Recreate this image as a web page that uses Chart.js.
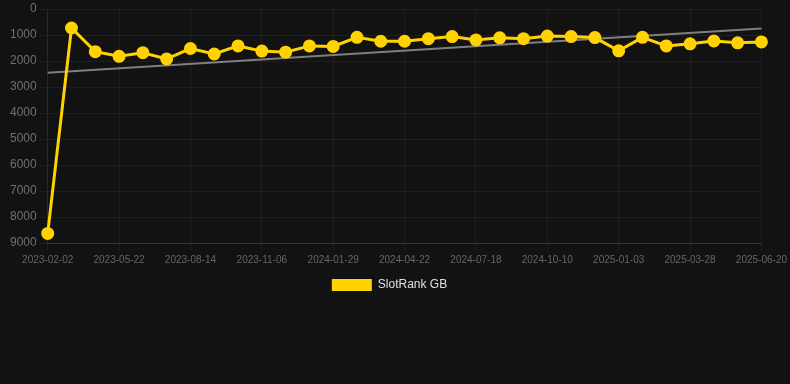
<!DOCTYPE html>
<html>
<head>
<meta charset="utf-8">
<script src="https://cdn.jsdelivr.net/npm/chart.js@4.4.1/dist/chart.umd.min.js"></script>
<style>
  html, body { margin: 0; padding: 0; background: #121212; }
  #wrap { width: 790px; height: 301px; position: relative; }
</style>
</head>
<body>
<div id="wrap"><canvas id="rank-chart"></canvas></div>
<script>
const dates = [
  "2023-02-02", "2023-03-10", "2023-04-15",
  "2023-05-22", "2023-06-19", "2023-07-17",
  "2023-08-14", "2023-09-11", "2023-10-09",
  "2023-11-06", "2023-12-04", "2024-01-01",
  "2024-01-29", "2024-02-26", "2024-03-25",
  "2024-04-22", "2024-05-21", "2024-06-19",
  "2024-07-18", "2024-08-15", "2024-09-12",
  "2024-10-10", "2024-11-07", "2024-12-05",
  "2025-01-03", "2025-01-31", "2025-02-28",
  "2025-03-28", "2025-04-25", "2025-05-23",
  "2025-06-20"
];

const rankGB = [
  8630, 730, 1640, 1820, 1680, 1920, 1520, 1730, 1420, 1620,
  1660, 1420, 1440, 1090, 1240, 1240, 1140, 1060, 1190, 1110,
  1140, 1040, 1060, 1100, 1610, 1090, 1420, 1340, 1230, 1300,
  1265
];

// trend line: only the two end values, drawn straight across
const trendStart = 2450;
const trendEnd = 750;

document.addEventListener("DOMContentLoaded", function () {
  const trendData = dates.map(() => null);
  trendData[0] = trendStart;
  trendData[dates.length - 1] = trendEnd;

  const ctx = document.getElementById("rank-chart").getContext("2d");
  const fontFamily = "Arial, 'Liberation Sans', sans-serif";

  new Chart(ctx, {
    type: "line",
    data: {
      labels: dates,
      datasets: [
        {
          label: "SlotRank GB",
          data: rankGB,
          borderColor: "#ffd200",
          backgroundColor: "#ffd200",
          borderWidth: 3,
          pointRadius: 5,
          pointHoverRadius: 6,
          tension: 0
        },
        {
          label: "trend",
          data: trendData,
          borderColor: "rgba(140,140,140,0.9)",
          borderWidth: 2,
          pointRadius: 0,
          spanGaps: true
        }
      ]
    },
    options: {
      responsive: true,
      maintainAspectRatio: false,
      animation: false,
      layout: { padding: { top: 0, left: 7, right: 18, bottom: 0 } },
      plugins: {
        tooltip: { enabled: false },
        legend: {
          display: true,
          position: "bottom",
          labels: {
            color: "#e0e0e0",
            font: { family: fontFamily, size: 12 },
            boxWidth: 40,
            boxHeight: 12,
            generateLabels: function (chart) {
              return Chart.defaults.plugins.legend.labels.generateLabels(chart)
                .filter(item => item.text !== "trend")
                .map(item => Object.assign(item, { lineWidth: 0 }));
            }
          }
        }
      },
      scales: {
        x: {
          grid: { color: "rgba(255,255,255,0.05)" },
          border: { color: "rgba(255,255,255,0.1)" },
          ticks: {
            color: "#666",
            font: { family: fontFamily, size: 10 },
            autoSkip: true,
            maxTicksLimit: 11,
            maxRotation: 0
          }
        },
        y: {
          reverse: true,
          min: 0,
          max: 9000,
          grid: { color: "rgba(255,255,255,0.05)" },
          border: { color: "rgba(255,255,255,0.05)" },
          ticks: {
            stepSize: 1000,
            color: "#707070",
            font: { family: fontFamily, size: 12, lineHeight: 0.85 },
            callback: value => String(value)
          }
        }
      }
    }
  });
});
</script>
</body>
</html>
